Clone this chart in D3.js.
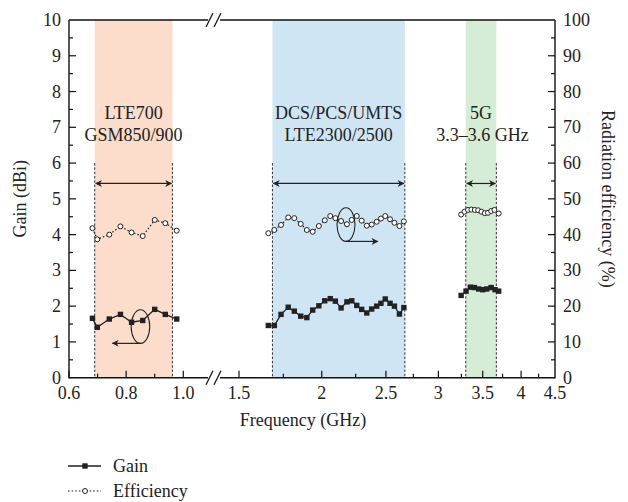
<!DOCTYPE html>
<html><head><meta charset="utf-8">
<script src="https://cdn.jsdelivr.net/npm/d3@7"></script>
<style>body{margin:0;background:#fff}text{font-family:"Liberation Serif","Times New Roman",serif;fill:#222}</style>
</head><body><svg id="c" width="628" height="502"></svg>
<script>
// ---------- data ----------
const leftMajorTicks = [0.6, 0.8, 1.0];
const leftMinorTicks = [0.7, 0.9];
const rightMajorTicks = [1.5, 2, 2.5, 3, 3.5, 4, 4.5];
const rightMinorTicks = [1.75, 2.25, 2.75, 3.25, 3.75, 4.25];
const xTickLabels = {"0.6":"0.6","0.8":"0.8","1":"1.0","1.5":"1.5","2":"2","2.5":"2.5","3":"3","3.5":"3.5","4":"4","4.5":"4.5"};
const gainTicks = [0,1,2,3,4,5,6,7,8,9,10];
const effTicks = [0,10,20,30,40,50,60,70,80,90,100];

const bandNames = ["low", "mid", "high"];
const bandStart = [0.69, 1.685, 3.30];
const bandEnd = [0.962, 2.67, 3.67];
const bandColors = ["#fcdccb", "#cfe5f3", "#d5ecd6"];
const bandLine1 = ["LTE700", "DCS/PCS/UMTS", "5G"];
const bandLine2 = ["GSM850/900", "LTE2300/2500", "3.3–3.6 GHz"];

const lowFreq = [0.682, 0.699, 0.741, 0.780, 0.819, 0.858, 0.900, 0.937, 0.977];
const lowGain = [1.66, 1.41, 1.64, 1.77, 1.55, 1.60, 1.91, 1.77, 1.64];
const lowEff  = [41.8, 38.7, 40.0, 42.3, 40.6, 39.6, 44.1, 43.2, 41.1];

const midFreq = [1.661, 1.696, 1.736, 1.780, 1.818, 1.859, 1.899, 1.938, 1.980, 2.021, 2.060, 2.097, 2.139,
                 2.183, 2.220, 2.259, 2.298, 2.339, 2.379, 2.421, 2.457, 2.494, 2.536, 2.575, 2.620, 2.661];
const midGain = [1.46, 1.46, 1.77, 1.97, 1.86, 1.72, 1.68, 1.89, 2.01, 2.15, 2.21, 2.14, 1.95,
                 2.12, 2.15, 2.02, 1.91, 1.81, 1.92, 2.00, 2.08, 2.20, 2.08, 2.00, 1.78, 1.96];
const midEff  = [40.4, 41.3, 42.7, 44.8, 44.6, 43.0, 41.3, 40.8, 42.4, 44.0, 45.2, 44.6, 43.8,
                 42.9, 44.1, 45.2, 43.9, 42.5, 42.8, 43.6, 44.5, 45.2, 44.3, 43.3, 42.4, 43.7];

const highGainFreq = [3.247, 3.303, 3.353, 3.400, 3.451, 3.500, 3.549, 3.604, 3.654, 3.700];
const highGain = [2.30, 2.42, 2.53, 2.52, 2.48, 2.46, 2.48, 2.52, 2.46, 2.42];
const highEffFreq = [3.247, 3.285, 3.325, 3.365, 3.405, 3.445, 3.485, 3.525, 3.565, 3.605, 3.645, 3.70];
const highEff = [45.6, 46.4, 46.9, 47.0, 46.9, 46.8, 46.4, 46.0, 46.1, 46.6, 46.9, 45.9];

// annotations (data units)
const lowEllipse = {f: 0.850, g: 1.43, rg: 0.47, rxPx: 9.3, arrowTo: 0.752};
const midEllipse = {f: 2.176, g: 4.28, rg: 0.47, rxPx: 9, arrowTo: 2.43};
const rangeArrowGain = 5.43;
const edgeTopGain = 6.0;

// ---------- layout ----------
const svg = d3.select("#c");
const L = 69, R = 555, T = 20, B = 377.7;
const breakL = 208, breakR = 220;
const xL = d3.scaleLinear().domain([0.6, 1.0]).range([L, 183.3]);
const xR = d3.scaleLog().domain([1.5, 4.5]).range([239, R]);
const x = f => f < 1.2 ? xL(f) : xR(f);
const yG = d3.scaleLinear().domain([0, 10]).range([B, T]);
const yE = d3.scaleLinear().domain([0, 100]).range([B, T]);
const FS = 18;

svg.append("defs").call(d => {
  d.append("marker").attr("id","ah").attr("viewBox","0 0 10 10").attr("refX",9).attr("refY",5)
   .attr("markerWidth",10).attr("markerHeight",7).attr("markerUnits","userSpaceOnUse").attr("orient","auto-start-reverse")
   .append("path").attr("d","M0,0 L10,5 L0,10 L3,5 Z").attr("fill","#222");
});

// bands
const bands = bandNames.map((n,i)=>({s:bandStart[i], e:bandEnd[i], c:bandColors[i], t1:bandLine1[i], t2:bandLine2[i]}));
svg.selectAll("rect.band").data(bands).join("rect").attr("class","band")
  .attr("x",d=>x(d.s)).attr("width",d=>x(d.e)-x(d.s)).attr("y",T).attr("height",B-T).attr("fill",d=>d.c);
bands.forEach(d=>{
  [d.s,d.e].forEach(f=>{
    svg.append("line").attr("x1",x(f)).attr("x2",x(f)).attr("y1",yG(edgeTopGain)).attr("y2",B)
      .attr("stroke","#333").attr("stroke-width",1).attr("stroke-dasharray","2.5,1.8");
  });
  svg.append("line").attr("x1",x(d.s)+1).attr("x2",x(d.e)-1).attr("y1",yG(rangeArrowGain)).attr("y2",yG(rangeArrowGain))
    .attr("stroke","#222").attr("stroke-width",1.2).attr("marker-start","url(#ah)").attr("marker-end","url(#ah)");
  const cx = (x(d.s)+x(d.e))/2;
  svg.append("text").attr("x",cx).attr("y",119).attr("text-anchor","middle").attr("font-size",FS).text(d.t1);
  svg.append("text").attr("x",cx+ (d.t1==="5G"?1.5:0)).attr("y",141).attr("text-anchor","middle").attr("font-size",FS).text(d.t2);
});

// axes lines
const ax = svg.append("g").attr("stroke","#111").attr("stroke-width",1.4).attr("fill","none");
ax.append("line").attr("x1",L).attr("x2",L).attr("y1",T).attr("y2",B+0.7);
ax.append("line").attr("x1",R).attr("x2",R).attr("y1",T).attr("y2",B+0.7);
[T,B].forEach(yy=>{
  ax.append("line").attr("x1",L).attr("x2",breakL).attr("y1",yy).attr("y2",yy);
  ax.append("line").attr("x1",breakR).attr("x2",R).attr("y1",yy).attr("y2",yy);
  ax.append("line").attr("x1",206).attr("x2",213).attr("y1",yy+7).attr("y2",yy-7).attr("stroke-width",1.2);
  ax.append("line").attr("x1",214).attr("x2",221).attr("y1",yy+7).attr("y2",yy-7).attr("stroke-width",1.2);
});

// x ticks
const tk = svg.append("g").attr("stroke","#111").attr("stroke-width",1.2);
leftMajorTicks.concat(rightMajorTicks.slice(0,-1)).forEach(f=>tk.append("line").attr("x1",x(f)).attr("x2",x(f)).attr("y1",B).attr("y2",B-7));
leftMinorTicks.concat(rightMinorTicks).forEach(f=>tk.append("line").attr("x1",x(f)).attr("x2",x(f)).attr("y1",B).attr("y2",B-4));
leftMajorTicks.concat(rightMajorTicks).forEach(f=>{
  svg.append("text").attr("x",x(f)).attr("y",399).attr("text-anchor","middle").attr("font-size",FS).text(xTickLabels[String(f)]);
});
// y ticks
d3.range(0,10.01,0.5).forEach(v=>{
  const major = Math.abs(v-Math.round(v))<1e-6;
  if (v>0 && v<10) {
    tk.append("line").attr("x1",L).attr("x2",L+(major?7:4)).attr("y1",yG(v)).attr("y2",yG(v));
    tk.append("line").attr("x1",R).attr("x2",R-(major?7:4)).attr("y1",yG(v)).attr("y2",yG(v));
  }
});
gainTicks.forEach(v=>svg.append("text").attr("x",61).attr("y",yG(v)+6).attr("text-anchor","end").attr("font-size",FS).text(v));
effTicks.forEach(v=>svg.append("text").attr("x",563).attr("y",yE(v)+6).attr("text-anchor","start").attr("font-size",FS).text(v));

// titles
svg.append("text").attr("x",303).attr("y",426).attr("text-anchor","middle").attr("font-size",FS).text("Frequency (GHz)");
svg.append("text").attr("transform",`translate(26,${(T+B)/2}) rotate(-90)`).attr("text-anchor","middle").attr("font-size",FS).text("Gain (dBi)");
svg.append("text").attr("transform",`translate(602,${(T+B)/2}) rotate(90)`).attr("text-anchor","middle").attr("font-size",FS).text("Radiation efficiency (%)");

// series
const gainSets = [[lowFreq,lowGain],[midFreq,midGain],[highGainFreq,highGain]];
const effSets = [[lowFreq,lowEff],[midFreq,midEff],[highEffFreq,highEff]];
const lineG = d3.line().x(d=>x(d[0])).y(d=>yG(d[1]));
const lineE = d3.line().x(d=>x(d[0])).y(d=>yE(d[1]));
const sq = 5.4;
effSets.forEach(([fs,vs])=>{
  const pts = fs.map((f,i)=>[f,vs[i]]);
  svg.append("path").datum(pts).attr("d",lineE).attr("fill","none").attr("stroke","#222").attr("stroke-width",1.2).attr("stroke-dasharray","1.6,2");
  svg.append("g").selectAll("circle").data(pts).join("circle").attr("cx",d=>x(d[0])).attr("cy",d=>yE(d[1])).attr("r",2.5)
    .attr("fill","#fff").attr("stroke","#222").attr("stroke-width",1);
});
gainSets.forEach(([fs,vs])=>{
  const pts = fs.map((f,i)=>[f,vs[i]]);
  svg.append("path").datum(pts).attr("d",lineG).attr("fill","none").attr("stroke","#222").attr("stroke-width",1.3);
  svg.append("g").selectAll("rect").data(pts).join("rect").attr("x",d=>x(d[0])-sq/2).attr("y",d=>yG(d[1])-sq/2)
    .attr("width",sq).attr("height",sq).attr("fill","#222");
});

// ellipse annotations
[[lowEllipse,-1],[midEllipse,1]].forEach(([e,dir])=>{
  const cx = x(e.f), cy = yG(e.g), ry = yG(0)-yG(e.rg);
  svg.append("ellipse").attr("cx",cx).attr("cy",cy).attr("rx",e.rxPx).attr("ry",ry).attr("fill","none").attr("stroke","#222").attr("stroke-width",1.1);
  svg.append("line").attr("x1",cx).attr("x2",x(e.arrowTo)).attr("y1",cy+ry).attr("y2",cy+ry)
    .attr("stroke","#222").attr("stroke-width",1.2).attr("marker-end","url(#ah)");
});

// legend
const lg = svg.append("g");
lg.append("line").attr("x1",68).attr("x2",101).attr("y1",466).attr("y2",466).attr("stroke","#222").attr("stroke-width",1.3);
lg.append("rect").attr("x",85-sq/2).attr("y",466-sq/2).attr("width",sq).attr("height",sq).attr("fill","#222");
lg.append("text").attr("x",113).attr("y",472).attr("font-size",FS).text("Gain");
lg.append("line").attr("x1",68).attr("x2",101).attr("y1",491).attr("y2",491).attr("stroke","#222").attr("stroke-width",1.2).attr("stroke-dasharray","1.6,2");
lg.append("circle").attr("cx",85).attr("cy",491).attr("r",2.5).attr("fill","#fff").attr("stroke","#222");
lg.append("text").attr("x",113).attr("y",497).attr("font-size",FS).text("Efficiency");
</script></body></html>
